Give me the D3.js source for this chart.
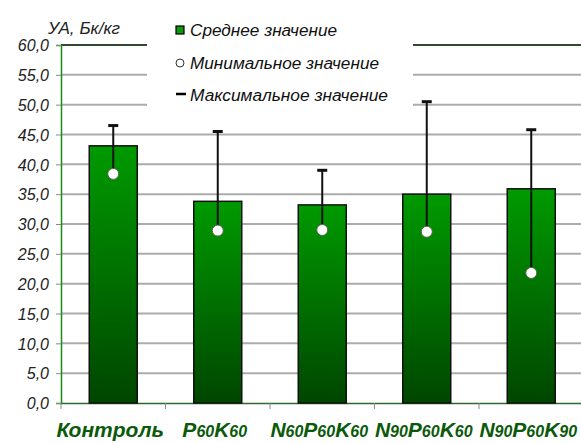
<!DOCTYPE html>
<html>
<head>
<meta charset="utf-8">
<script src="https://cdn.jsdelivr.net/npm/d3@7/dist/d3.min.js"></script>
<style>
  body { margin: 0; background: #fff; }
  svg { display: block; font-family: Arial, "Liberation Sans", sans-serif; }
</style>
</head>
<body>
<svg id="chart" width="581" height="443"></svg>
<script>
// categories as [base, subscript] pieces
const categories = [
  [['Контроль', '']],
  [['P', '60'], ['K', '60']],
  [['N', '60'], ['P', '60'], ['K', '60']],
  [['N', '90'], ['P', '60'], ['K', '60']],
  [['N', '90'], ['P', '60'], ['K', '90']]
];
const meanValues = [43.1, 33.8, 33.2, 35.0, 35.9];
const minValues = [38.4, 28.9, 29.0, 28.7, 21.8];
const maxValues = [46.5, 45.5, 39.0, 50.5, 45.8];
const yTicks = [0, 5, 10, 15, 20, 25, 30, 35, 40, 45, 50, 55, 60];
const legendLabels = ['Среднее значение', 'Минимальное значение', 'Максимальное значение'];

const svg = d3.select('#chart');
const plotLeft = 61, plotTop = 45, plotBottom = 403, plotRight = 583.5;

const x = d3.scaleBand().domain(d3.range(categories.length)).range([plotLeft, plotRight]).paddingInner(0).paddingOuter(0);
const y = d3.scaleLinear().domain([0, 60]).range([plotBottom, plotTop]);

const defs = svg.append('defs');
const grad = defs.append('linearGradient').attr('id', 'barGrad')
  .attr('x1', 0).attr('y1', 0).attr('x2', 0).attr('y2', 1);
grad.append('stop').attr('offset', '0%').attr('stop-color', '#009a00');
grad.append('stop').attr('offset', '100%').attr('stop-color', '#004600');

// gridlines
svg.append('g').selectAll('line').data(yTicks.filter(d => d > 0)).join('line')
  .attr('x1', plotLeft).attr('x2', plotRight)
  .attr('y1', d => y(d)).attr('y2', d => y(d))
  .attr('stroke', d => d === 60 ? '#2f4a2f' : '#acacac')
  .attr('stroke-width', 2);

// y axis
const yAxis = d3.axisLeft(y).tickValues(yTicks).tickSize(5)
  .tickFormat(d => d3.format('.1f')(d).replace('.', ','));
const gy = svg.append('g').attr('transform', `translate(${plotLeft},0)`).call(yAxis);
gy.select('.domain').attr('stroke', '#1a8a1a').attr('stroke-width', 1.5);
gy.selectAll('.tick line').attr('stroke', '#888');
gy.selectAll('.tick text').attr('x', -12).attr('dy', '0.36em')
  .style('font-size', '16px').style('font-style', 'italic').attr('fill', '#222');

// x baseline and ticks
const xAxis = d3.axisBottom(x).tickSize(0).tickFormat('');
const gx = svg.append('g').attr('transform', `translate(0,${plotBottom})`).call(xAxis);
gx.select('.domain').attr('stroke', '#2d6a2d').attr('stroke-width', 1.5);
svg.append('g').selectAll('line').data(d3.range(categories.length + 1)).join('line')
  .attr('x1', i => plotLeft + i * x.step()).attr('x2', i => plotLeft + i * x.step())
  .attr('y1', plotBottom).attr('y2', plotBottom + 6)
  .attr('stroke', '#888').attr('stroke-width', 1);

// legend box (white, hides grid)
const lg = svg.append('g');
lg.append('rect').attr('x', 147).attr('y', 14).attr('width', 266).attr('height', 96).attr('fill', '#fff');
const legendY = [30, 63, 95];
const legendW = [147, 189, 198];
lg.append('rect').attr('x', 176).attr('y', legendY[0] - 4).attr('width', 8).attr('height', 8)
  .attr('fill', '#0a9a0a').attr('stroke', '#000').attr('stroke-width', 1.2);
lg.append('circle').attr('cx', 180).attr('cy', legendY[1]).attr('r', 4)
  .attr('fill', '#fff').attr('stroke', '#333').attr('stroke-width', 1);
lg.append('line').attr('x1', 176).attr('x2', 186).attr('y1', legendY[2] - 1).attr('y2', legendY[2] - 1)
  .attr('stroke', '#000').attr('stroke-width', 2.5);
lg.selectAll('text').data(legendLabels).join('text')
  .attr('x', 190).attr('y', (d, i) => legendY[i]).attr('dy', '0.36em')
  .attr('textLength', (d, i) => legendW[i]).attr('lengthAdjust', 'spacingAndGlyphs')
  .style('font-size', '16px').style('font-style', 'italic').attr('fill', '#111')
  .text(d => d);

// axis title
svg.append('text').attr('x', 48).attr('y', 34)
  .attr('textLength', 72).attr('lengthAdjust', 'spacingAndGlyphs')
  .style('font-size', '16px').style('font-style', 'italic').attr('fill', '#222')
  .text('УА, Бк/кг');

// bars
const barW = 48;
svg.append('g').selectAll('rect').data(meanValues).join('rect')
  .attr('x', (d, i) => x(i) + x.bandwidth() / 2 - barW / 2)
  .attr('y', d => y(d)).attr('width', barW).attr('height', d => plotBottom - y(d))
  .attr('fill', 'url(#barGrad)').attr('stroke', '#111').attr('stroke-width', 1.5);

// error bars min -> max
const cx = i => x(i) + x.bandwidth() / 2;
svg.append('g').selectAll('line').data(maxValues).join('line')
  .attr('x1', (d, i) => cx(i)).attr('x2', (d, i) => cx(i))
  .attr('y1', d => y(d)).attr('y2', (d, i) => y(minValues[i]))
  .attr('stroke', '#111').attr('stroke-width', 2);
svg.append('g').selectAll('line').data(maxValues).join('line')
  .attr('x1', (d, i) => cx(i) - 5).attr('x2', (d, i) => cx(i) + 5)
  .attr('y1', d => y(d)).attr('y2', d => y(d))
  .attr('stroke', '#111').attr('stroke-width', 3);
svg.append('g').selectAll('circle').data(minValues).join('circle')
  .attr('cx', (d, i) => cx(i)).attr('cy', d => y(d)).attr('r', 5.5)
  .attr('fill', '#fff').attr('stroke', '#556655').attr('stroke-width', 1);

// category labels with subscripts
const labels = svg.append('g').selectAll('text').data(categories).join('text')
  .attr('x', (d, i) => cx(i) - 3).attr('y', 437).attr('text-anchor', 'middle')
  .style('font-size', '21px').style('font-style', 'italic').style('font-weight', 'bold')
  .attr('fill', '#0b5a0b');
labels.each(function (parts) {
  const t = d3.select(this);
  parts.forEach(([base, sub]) => {
    t.append('tspan').text(base);
    if (sub) t.append('tspan').style('font-size', '16px').text(sub);
  });
});
</script>
</body>
</html>
